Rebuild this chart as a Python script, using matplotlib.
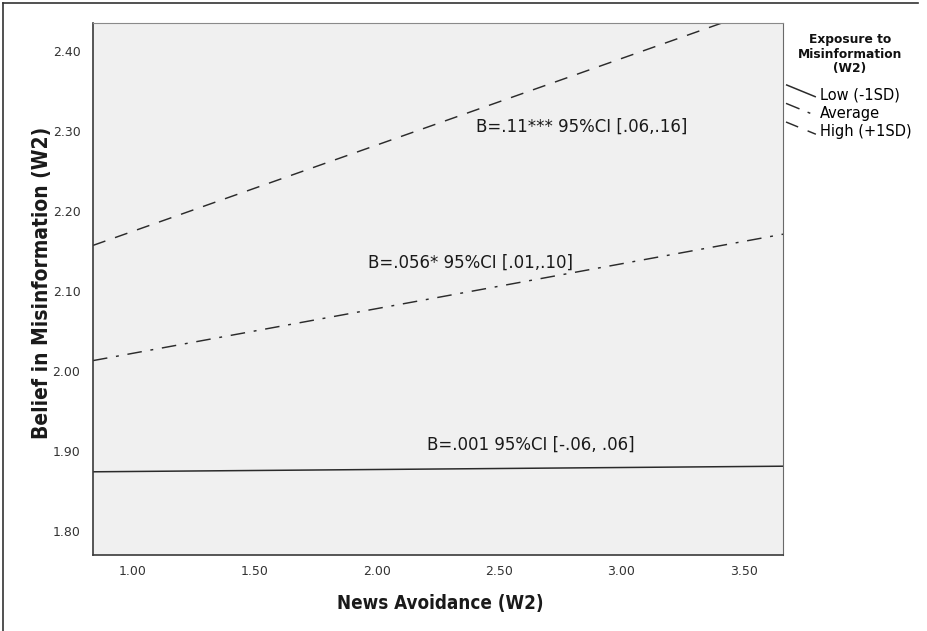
import numpy as np
import matplotlib
matplotlib.use("Agg")
import matplotlib.pyplot as plt
from matplotlib.lines import Line2D
from matplotlib.legend_handler import HandlerLine2D

# values (simple slopes at -1SD / mean / +1SD)
x_avoid = [0.84, 3.66]
belief_low = [1.874, 1.881]
belief_avg = [2.013, 2.171]
belief_high = [2.157, 2.462]
series_labels = ["Low (-1SD)", "Average", "High (+1SD)"]
slope_texts = ["B=.001 95%CI [-.06, .06]",
               "B=.056* 95%CI [.01,.10]",
               "B=.11*** 95%CI [.06,.16]"]
slope_pos = [(2.205, 1.908), (1.964, 2.135), (2.405, 2.305)]
x_ticks = [1.0, 1.5, 2.0, 2.5, 3.0, 3.5]
y_ticks = [1.8, 1.9, 2.0, 2.1, 2.2, 2.3, 2.4]


class SlantHandler(HandlerLine2D):
    """legend sample drawn as a short slanted stroke, SPSS style"""
    def create_artists(self, legend, orig_handle, xdescent, ydescent,
                       width, height, fontsize, trans):
        line = Line2D([-xdescent, width - xdescent],
                      [height * 1.4 - ydescent, height * 0.2 - ydescent])
        self.update_prop(line, orig_handle, legend)
        line.set_transform(trans)
        return [line]


W, H = 928, 631
fig = plt.figure(figsize=(W / 100, H / 100), dpi=100)
ax = fig.add_axes([93 / W, 1 - 555 / H, 690 / W, 532 / H])
ax.set_facecolor("#f0f0f0")

lc = "#2b2b2b"
h_low, = ax.plot(x_avoid, belief_low, color=lc, lw=1.1, solid_capstyle="butt")
h_avg, = ax.plot(x_avoid, belief_avg, color=lc, lw=1.05, dashes=(10, 6, 2, 6))
h_high, = ax.plot(x_avoid, belief_high, color=lc, lw=1.05, dashes=(9, 7))

for txt, (tx, ty) in zip(slope_texts, slope_pos):
    ax.text(tx, ty, txt, fontsize=12, color="#1a1a1a", va="center", ha="left")

ax.set_xlim(0.84, 3.66)
ax.set_ylim(1.77, 2.435)
ax.set_xticks(x_ticks)
ax.set_xticklabels(["%.2f" % v for v in x_ticks])
ax.set_yticks(y_ticks)
ax.set_yticklabels(["%.2f" % v for v in y_ticks])
ax.tick_params(length=0, labelsize=9, labelcolor="#333333")
ax.tick_params(axis="x", pad=7.5)
ax.tick_params(axis="y", pad=9)

for side in ["left", "bottom"]:
    ax.spines[side].set_color("#3a3a3a")
    ax.spines[side].set_linewidth(1.2)
ax.spines["top"].set_color("#8a8a8a")
ax.spines["right"].set_color("#6a6a6a")

lab_font = dict(family="DejaVu Sans", fontstretch="condensed",
                fontweight="bold", color="#1a1a1a", ha="center", va="center")
fig.text(440 / W, 1 - 603 / H, "News Avoidance (W2)", fontsize=13.5, **lab_font)
fig.text(42 / W, 1 - 283 / H, "Belief in Misinformation (W2)", fontsize=15,
         rotation=90, **lab_font)

# legend: title as its own text so the gap above the entries can match
fig.text(850 / W, 1 - 33 / H, "Exposure to\nMisinformation\n(W2)",
         fontsize=8.8, fontweight="bold", ha="center", va="top",
         multialignment="center", linespacing=1.15, color="#111111")
fig.legend([h_low, h_avg, h_high], series_labels,
           loc="upper left", bbox_to_anchor=(786 / W, 1 - 87 / H),
           frameon=False, fontsize=10.5, handlelength=2.05, borderpad=0,
           handletextpad=0.3, labelspacing=0.25, borderaxespad=0,
           handler_map={Line2D: SlantHandler()})

# outer frame of the exported figure (only left and top survive the crop)
fig.add_artist(Line2D([3 / W, 918 / W], [1 - 3 / H, 1 - 3 / H],
                      color="#333333", lw=1.2))
fig.add_artist(Line2D([3 / W, 3 / W], [0, 1 - 3 / H],
                      color="#333333", lw=1.2))

fig.savefig("out.png", dpi=100)
